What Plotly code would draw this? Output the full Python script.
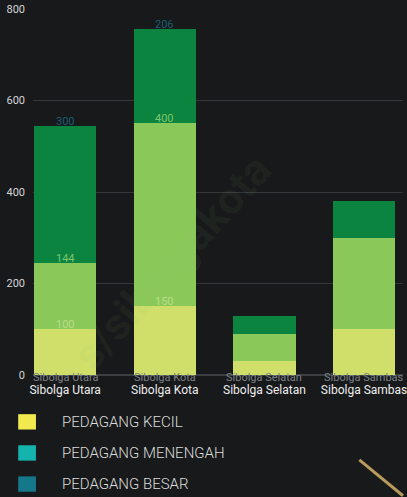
import plotly.graph_objects as go

# data
kecamatan = ["Sibolga Utara", "Sibolga Kota", "Sibolga Selatan", "Sibolga Sambas"]
kecil = [100, 150, 30, 100]
menengah = [144, 400, 60, 200]
besar = [300, 206, 40, 80]
tampil_label = [True, True, False, False]

legend_names = ["PEDAGANG KECIL", "PEDAGANG MENENGAH", "PEDAGANG BESAR"]
legend_colors = ["#f2e94e", "#14b3ad", "#15788a"]

bar_colors = ["#cfdf6a", "#8bc85a", "#0a843f"]
label_colors = ["#b9dd88", "#7fc46c", "#1d5d72"]

BG = "#17191b"

fig = go.Figure()
series = [kecil, menengah, besar]
for vals, col in zip(series, bar_colors):
    fig.add_trace(go.Bar(x=kecamatan, y=vals, marker=dict(color=col, line=dict(width=0)),
                         width=0.626, showlegend=False, hoverinfo="skip"))

# value labels sitting on top of each segment
annots = []
for s, (vals, lc) in enumerate(zip(series, label_colors)):
    for i, kec in enumerate(kecamatan):
        if not tampil_label[i]:
            continue
        top = sum(series[k][i] for k in range(s + 1))
        annots.append(dict(x=kec, y=top, xref="x", yref="y", text=str(vals[i]),
                           showarrow=False, yanchor="middle", yshift=5,
                           font=dict(size=11, color=lc, family="Roboto")))

# faint duplicate category names at the base
for kec in kecamatan:
    annots.append(dict(x=kec, y=0, xref="x", yref="paper", text=kec, showarrow=False,
                       yanchor="middle", yshift=-2,
                       font=dict(size=11, color="#7d8186", family="Roboto")))

# custom legend
leg_y = [-0.128, -0.213, -0.298]
shapes = []
for name, col, yy in zip(legend_names, legend_colors, leg_y):
    shapes.append(dict(type="rect", xref="paper", yref="paper",
                       x0=-0.040, x1=0.008, y0=yy - 0.021, y1=yy + 0.021,
                       fillcolor=col, line=dict(width=0)))
    annots.append(dict(x=0.072, y=yy, xref="paper", yref="paper", text=name,
                       showarrow=False, xanchor="left", yanchor="middle",
                       font=dict(size=15, color="#dcdcdc", family="Roboto", weight=300)))

# watermark
annots.append(dict(x=0.68, y=-0.02, xref="paper", yref="paper", text="s/sibolgakota",
                   showarrow=False, textangle=-48,
                   font=dict(size=44, color="rgba(140,190,120,0.07)", family="Roboto", weight=700)))

# decorative diagonal stroke bottom right
shapes.append(dict(type="line", xref="paper", yref="paper", x0=0.882, y0=-0.232,
                   x1=1.0, y1=-0.33, line=dict(color="#b79a5c", width=3)))

fig.update_layout(
    width=407, height=497,
    margin=dict(l=33, r=0, t=9, b=122),
    paper_bgcolor=BG, plot_bgcolor=BG,
    barmode="stack",
    font=dict(family="Roboto", color="#e6e6e6"),
    xaxis=dict(range=[-0.323, 3.391], showgrid=False, zeroline=False, showline=False,
               ticks="", tickfont=dict(size=12, color="#eeeeee"), ticklabelstandoff=6),
    yaxis=dict(range=[0, 800], tickvals=[0, 200, 400, 600, 800], showgrid=True,
               gridcolor="#34373a", gridwidth=1, zeroline=True, zerolinecolor="#3c3f42",
               ticks="", ticklabelstandoff=7, tickfont=dict(size=11, color="#d6d6d6")),
    annotations=annots, shapes=shapes,
)

# page without the default body margin so the figure sits at the window's corner
fig.write_html("out.html", config={"displayModeBar": False},
               post_script="document.body.style.margin='0';document.body.style.background='%s';" % BG)
